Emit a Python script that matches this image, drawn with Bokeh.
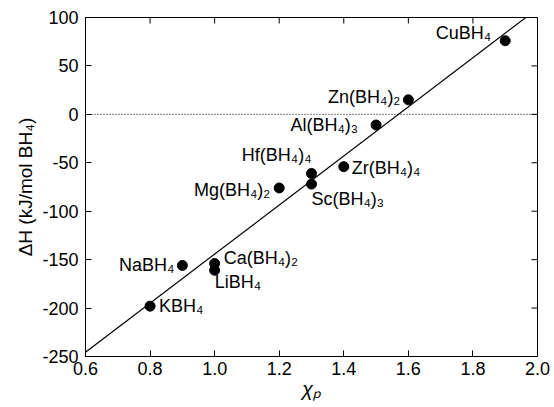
import numpy as np
from bokeh.plotting import figure
from bokeh.models import (ColumnDataSource, Span, LinearAxis, FixedTicker, Range1d,
                          PrintfTickFormatter)
from bokeh.core.properties import value
from bokeh.embed import file_html
from bokeh.resources import INLINE

# ---- data ----
compounds = ["CuBH₄", "Zn(BH₄)₂", "Al(BH₄)₃", "Hf(BH₄)₄", "Sc(BH₄)₃", "Zr(BH₄)₄",
             "Mg(BH₄)₂", "NaBH₄", "Ca(BH₄)₂", "LiBH₄", "KBH₄"]
chi_p = [1.9, 1.6, 1.5, 1.3, 1.3, 1.4, 1.2, 0.9, 1.0, 1.0, 0.8]
dH = [76, 15, -11, -61, -72, -54, -76, -156, -154, -161, -198]
x_ticks = [0.6, 0.8, 1.0, 1.2, 1.4, 1.6, 1.8, 2.0]
y_ticks = [-250, -200, -150, -100, -50, 0, 50, 100]
x_lo, x_hi = 0.6, 2.0
y_lo, y_hi = -250, 100

# ---- label placement (styles, screen pixels) ----
lab_dx = [-14, -8, -18, 0, 0, 8, -9, -8, 9, 0, 9]
lab_dy = [-8, -3, 0, -18, 15, 1, 2, 0, -6, 12, 0]
lab_align = ["right", "right", "right", "right", "left", "left", "right", "right", "left", "left", "left"]

FONT = "Liberation Sans"

p = figure(width=554, height=407, output_backend="svg", toolbar_location=None,
           x_range=Range1d(x_lo, x_hi), y_range=Range1d(y_lo, y_hi),
           x_axis_location=None, y_axis_location=None,
           min_border_left=85, min_border_right=17, min_border_top=17, min_border_bottom=51)
p.background_fill_color = "white"
p.border_fill_color = "white"
p.outline_line_color = "black"
p.outline_line_width = 1
p.grid.visible = False

def style_axis(ax, ticks):
    ax.ticker = FixedTicker(ticks=ticks)
    ax.major_tick_in = 6
    ax.major_tick_out = 0
    ax.minor_tick_line_color = None
    ax.axis_line_color = "black"
    ax.major_tick_line_color = "black"
    ax.major_label_text_font = FONT
    ax.major_label_text_color = "black"
    ax.major_label_text_font_size = "18px"
    ax.axis_label_text_font = FONT
    ax.axis_label_text_color = "black"

xb = LinearAxis()
style_axis(xb, x_ticks)
xb.major_label_standoff = 5
xb.formatter = PrintfTickFormatter(format="%.1f")
xb.axis_label = "χₚ"
xb.axis_label_text_font_style = "italic"
xb.axis_label_text_font_size = "20px"
xb.axis_label_standoff = 0
p.add_layout(xb, "below")

yl = LinearAxis()
style_axis(yl, y_ticks)
yl.major_label_standoff = 7
yl.formatter = PrintfTickFormatter(format="%d")
yl.axis_label = "ΔH (kJ/mol BH₄)"
yl.axis_label_text_font_style = "normal"
yl.axis_label_text_font_size = "19px"
yl.axis_label_standoff = 3
p.add_layout(yl, "left")

# mirrored inward ticks on the top and right edges
p.ray(x=x_ticks, y=[y_hi] * len(x_ticks), length=6, length_units="screen",
      angle=-np.pi / 2, line_color="black", line_width=1)
p.ray(x=[x_hi] * len(y_ticks), y=y_ticks, length=6, length_units="screen",
      angle=np.pi, line_color="black", line_width=1)

# zero reference line
p.add_layout(Span(location=0, dimension="width", line_color="black",
                  line_width=1, line_dash="1 2"))

# linear fit through the data
slope, intercept = np.polyfit(chi_p, dH, 1)
fit_x = np.array([x_lo, x_hi])
fit_y = slope * fit_x + intercept
p.line(fit_x, fit_y, line_color="black", line_width=1.2)

src = ColumnDataSource(dict(x=chi_p, y=dH, name=compounds, dx=lab_dx, dy=lab_dy, al=lab_align))
p.scatter("x", "y", source=src, size=10, fill_color="black", line_color="black")
p.text("x", "y", text="name", source=src, x_offset="dx", y_offset="dy", text_align="al",
       text_baseline="middle", text_font=value(FONT), text_font_size="18px", text_color="black")

open("out.html", "w").write(file_html(p, INLINE))
